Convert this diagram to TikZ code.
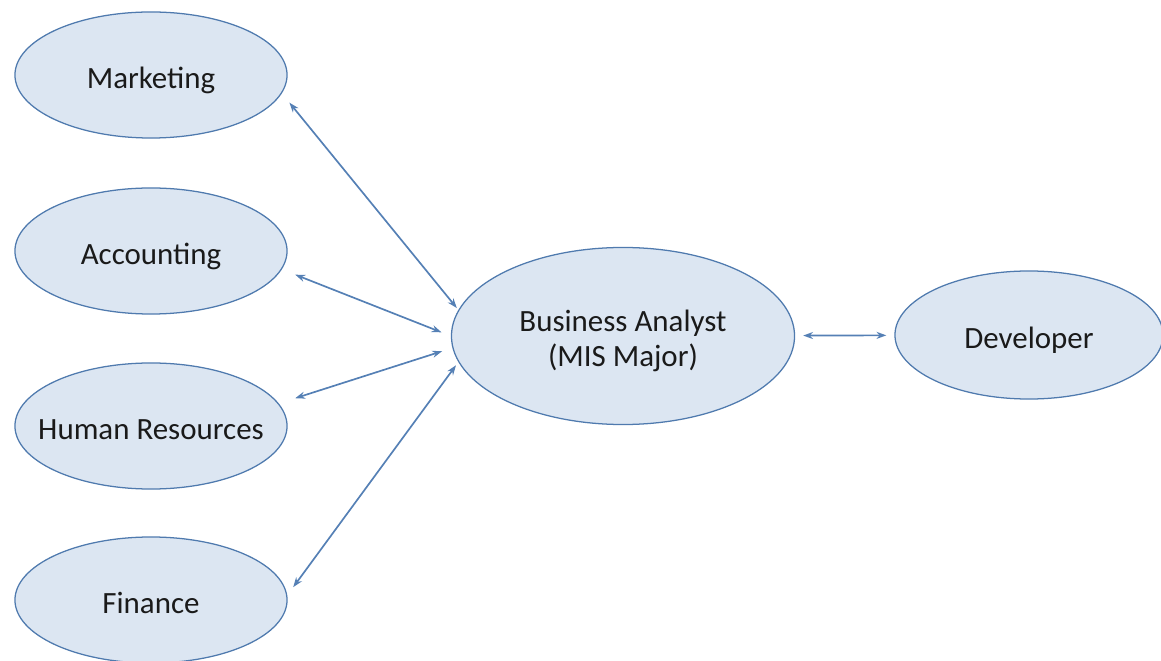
\documentclass[tikz,border=0pt]{standalone}
\usepackage{fontspec}
\setmainfont{Carlito}
\usetikzlibrary{arrows.meta, shapes.geometric}
\definecolor{bubble}{HTML}{DCE6F2}
\definecolor{rim}{HTML}{4F7AAE}
\definecolor{link}{HTML}{5580B5}
\definecolor{ink}{HTML}{1A1A1A}

\begin{document}
\begin{tikzpicture}[
    x=0.025cm, y=-0.025cm,
    every node/.style={font=\fontsize{22}{25.5}\selectfont, text=ink},
    dept/.style={
        ellipse,
        draw=rim,
        fill=bubble,
        line width=0.9pt,
        inner xsep=-20pt,
        text height=22pt,
        text depth=3.5pt,
        minimum width=6.8cm,
        minimum height=3.15cm,
        align=center
    },
    analyst/.style={
        dept,
        text height=48pt,
        text depth=4pt,
        minimum width=8.575cm,
        minimum height=4.425cm
    },
    coder/.style={
        dept,
        minimum width=6.7cm,
        minimum height=3.2cm
    },
    arrow/.style={line width=1.2pt, {Stealth[length=7pt,width=5pt]}-{Stealth[length=7pt,width=5pt]}, color=link}
]

\useasboundingbox (0,0) rectangle (1161,661);
\clip (0,0) rectangle (1161,661);

\node[dept] (mkt) at (151,75) {Marketing};
\node[dept] (acc) at (151,251) {Accounting};
\node[dept] (hr) at (151,426) {Human Resources};
\node[dept] (fin) at (151,600) {Finance};

\node[analyst] (ba) at (623,336) {Business Analyst\\(MIS Major)};
\node[coder] (dev) at (1029,335) {Developer};

\draw[arrow, shorten <=0.3cm, shorten >=0.06cm] (mkt.-8) -- (ba.171.5);
\draw[arrow, shorten <=0.36cm, shorten >=0.25cm] (acc.-8) -- (ba.180);
\draw[arrow, shorten <=0.43cm, shorten >=0.27cm] (hr.10) -- (ba.184);
\draw[arrow, shorten <=0.25cm, shorten >=0.1cm] (fin.2) -- (ba.189);
\draw[arrow, shorten <=0.2cm, shorten >=0.2cm] (ba) -- (dev);

\end{tikzpicture}
\end{document}
